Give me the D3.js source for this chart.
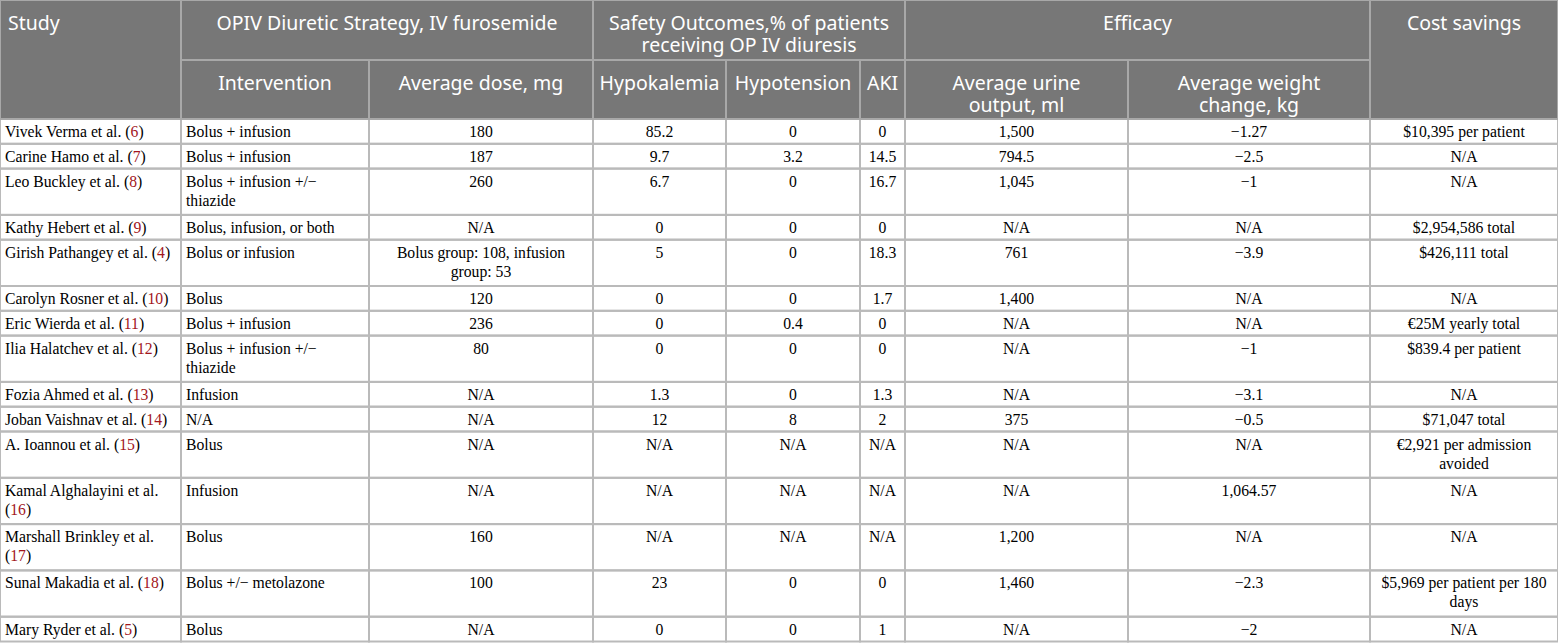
<!DOCTYPE html>
<html>
<head>
<meta charset="utf-8">
<script src="https://cdn.jsdelivr.net/npm/d3@7"></script>
<style>
  html, body { margin: 0; padding: 0; background: #fff; }
</style>
</head>
<body>
<svg id="table"></svg>
<script>
const width = 1558;
const height = 644;

// table content
const headerTop = ["Study", "OPIV Diuretic Strategy, IV furosemide", "Safety Outcomes,% of patients\nreceiving OP IV diuresis", "Efficacy", "Cost savings"];
const headerTopSpan = [1, 2, 3, 2, 1];
const headerSub = ["Intervention", "Average dose, mg", "Hypokalemia", "Hypotension", "AKI", "Average urine\noutput, ml", "Average weight\nchange, kg"];

const studies = [
    "Vivek Verma et al. (6)", "Carine Hamo et al. (7)", "Leo Buckley et al. (8)", "Kathy Hebert et al. (9)",
    "Girish Pathangey et al. (4)", "Carolyn Rosner et al. (10)", "Eric Wierda et al. (11)", "Ilia Halatchev et al. (12)",
    "Fozia Ahmed et al. (13)", "Joban Vaishnav et al. (14)", "A. Ioannou et al. (15)", "Kamal Alghalayini et al.\n(16)",
    "Marshall Brinkley et al.\n(17)", "Sunal Makadia et al. (18)", "Mary Ryder et al. (5)"
];
const interventions = [
    "Bolus + infusion", "Bolus + infusion", "Bolus + infusion +/\u2212\nthiazide", "Bolus, infusion, or both",
    "Bolus or infusion", "Bolus", "Bolus + infusion", "Bolus + infusion +/\u2212\nthiazide",
    "Infusion", "N/A", "Bolus", "Infusion", "Bolus", "Bolus +/\u2212 metolazone", "Bolus"
];
const doses = ["180", "187", "260", "N/A", "Bolus group: 108, infusion\ngroup: 53", "120", "236", "80", "N/A", "N/A", "N/A", "N/A", "160", "100", "N/A"];
const hypokalemia = ["85.2", "9.7", "6.7", "0", "5", "0", "0", "0", "1.3", "12", "N/A", "N/A", "N/A", "23", "0"];
const hypotension = ["0", "3.2", "0", "0", "0", "0", "0.4", "0", "0", "8", "N/A", "N/A", "N/A", "0", "0"];
const aki = ["0", "14.5", "16.7", "0", "18.3", "1.7", "0", "0", "1.3", "2", "N/A", "N/A", "N/A", "0", "1"];
const urineOutput = ["1,500", "794.5", "1,045", "N/A", "761", "1,400", "N/A", "N/A", "N/A", "375", "N/A", "N/A", "1,200", "1,460", "N/A"];
const weightChange = ["\u22121.27", "\u22122.5", "\u22121", "N/A", "\u22123.9", "N/A", "N/A", "\u22121", "\u22123.1", "\u22120.5", "N/A", "1,064.57", "N/A", "\u22122.3", "\u22122"];
const costSavings = [
    "$10,395 per patient", "N/A", "N/A", "$2,954,586 total", "$426,111 total", "N/A", "\u20ac25M yearly total",
    "$839.4 per patient", "N/A", "$71,047 total", "\u20ac2,921 per admission\navoided", "N/A", "N/A",
    "$5,969 per patient per 180\ndays", "N/A"
];

// layout
const colWidths = [181, 188, 224, 133, 134, 45, 223, 242, 188];
const colEdges = [0];
colWidths.forEach(w => colEdges.push(colEdges[colEdges.length - 1] + w));
const headerRow1 = 60;
const headerRow2 = 59;
const singleRow = 24.8;
const lineStep = 19;
const extraLine = 21.5;
const headerFill = "#777777";
const headerStroke = "#a8a8a8";
const bodyStroke = "#bababa";
const refColor = "#a2161c";

const svg = d3.select("#table")
    .attr("width", width)
    .attr("height", height)
    .style("display", "block");

const columns = [studies, interventions, doses, hypokalemia, hypotension, aki, urineOutput, weightChange, costSavings];
const rows = studies.map((s, i) => columns.map(c => c[i].split("\n")));

// row positions from number of text lines
const rowTops = [];
let yPos = headerRow1 + headerRow2;
rows.forEach(r => {
    const lines = d3.max(r, c => c.length);
    rowTops.push({ y: yPos, h: singleRow + (lines - 1) * extraLine });
    yPos += singleRow + (lines - 1) * extraLine;
});

// header background
const header = svg.append("g").attr("class", "header");

header.append("rect")
    .attr("x", 0).attr("y", 0)
    .attr("width", width).attr("height", headerRow1 + headerRow2)
    .attr("fill", headerFill);

function headerText(g, lines, x, y, anchor) {
    const t = g.append("text")
        .attr("font-family", "'Noto Sans', 'Open Sans', sans-serif")
        .attr("font-size", "19.5px")
        .attr("fill", "#ffffff")
        .attr("text-anchor", anchor);
    lines.forEach((l, k) => {
        t.append("tspan").attr("x", x).attr("y", y + k * 21.5).text(l);
    });
}

// top header row
let c0 = 0;
headerTop.forEach((h, i) => {
    const span = headerTopSpan[i];
    const x0 = colEdges[c0];
    const x1 = colEdges[c0 + span];
    const tall = (i === 0 || i === headerTop.length - 1);
    header.append("rect")
        .attr("x", x0).attr("y", 0)
        .attr("width", x1 - x0)
        .attr("height", tall ? headerRow1 + headerRow2 : headerRow1)
        .attr("fill", "none")
        .attr("stroke", headerStroke)
        .attr("stroke-width", 2);
    if (i === 0) headerText(header, h.split("\n"), x0 + 8, 30, "start");
    else headerText(header, h.split("\n"), (x0 + x1) / 2, 30, "middle");
    c0 += span;
});

// second header row
headerSub.forEach((h, i) => {
    const x0 = colEdges[i + 1];
    const x1 = colEdges[i + 2];
    header.append("rect")
        .attr("x", x0).attr("y", headerRow1)
        .attr("width", x1 - x0).attr("height", headerRow2)
        .attr("fill", "none")
        .attr("stroke", headerStroke)
        .attr("stroke-width", 2);
    headerText(header, h.split("\n"), (x0 + x1) / 2, headerRow1 + 30, "middle");
});

// body cells
const body = svg.append("g").attr("class", "body");

rows.forEach((r, i) => {
    const top = rowTops[i];
    r.forEach((lines, j) => {
        const x0 = colEdges[j];
        const x1 = colEdges[j + 1];
        body.append("rect")
            .attr("x", x0).attr("y", top.y)
            .attr("width", x1 - x0).attr("height", top.h)
            .attr("fill", "none")
            .attr("stroke", bodyStroke)
            .attr("stroke-width", 2);

        const left = j < 2;
        const t = body.append("text")
            .attr("font-family", "'Liberation Serif', 'Times New Roman', serif")
            .attr("font-size", "15.7px")
            .attr("fill", "#000")
            .attr("text-anchor", left ? "start" : "middle");

        lines.forEach((l, k) => {
            const line = t.append("tspan")
                .attr("x", left ? x0 + 5 : (x0 + x1) / 2)
                .attr("y", top.y + 18 + k * lineStep);
            if (j === 0) {
                // reference number in red
                const parts = l.split(/\((\d+)\)/);
                line.append("tspan").text(parts[0] + (parts.length > 1 ? "(" : ""));
                if (parts.length > 1) {
                    line.append("tspan").attr("fill", refColor).text(parts[1]);
                    line.append("tspan").text(")" + parts[2]);
                }
            } else {
                line.text(l);
            }
        });
    });
});

// keep header borders on top of the body lines
header.raise();
</script>
</body>
</html>
